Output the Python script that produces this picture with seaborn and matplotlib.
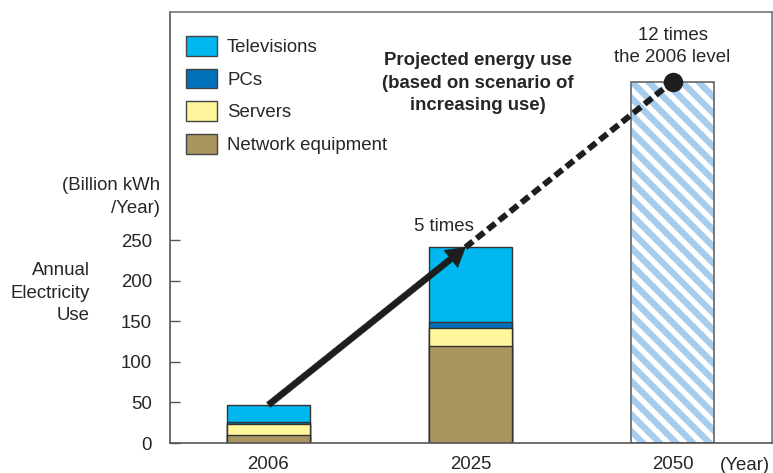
import numpy as np
import pandas as pd
import matplotlib
matplotlib.use("Agg")
import matplotlib.pyplot as plt
from matplotlib.patches import Patch
import seaborn as sns

# Annual electricity use of IT equipment (billion kWh / year)
years = ["2006", "2025", "2050"]
network = [10, 119]
servers = [13, 23]
pcs = [3, 7]
televisions = [21, 92]
projected_2050 = 445

categories = ["Televisions", "PCs", "Servers", "Network equipment"]
colors = {
    "Televisions": "#00B8EF",
    "PCs": "#0070B8",
    "Servers": "#FFF59D",
    "Network equipment": "#A99560",
}
hatch_color = "#A6CDEE"
ink = "#1E1E1E"

sns.set_style("white")
plt.rcParams["font.family"] = ["Liberation Sans", "DejaVu Sans"]
plt.rcParams["hatch.linewidth"] = 4.6

FS = 13.4
LS = 1.42
W, H = 773, 473
fig = plt.figure(figsize=(W / 100, H / 100), dpi=100)
ax = fig.add_axes([170 / W, 30 / H, 601.5 / W, 431 / H])

# cumulative stack tops for the two measured/forecast years
stack = pd.DataFrame({
    "year": years[:2],
    "Network equipment": network,
    "Servers": servers,
    "PCs": pcs,
    "Televisions": televisions,
})
order_bottom_up = ["Network equipment", "Servers", "PCs", "Televisions"]
tops = stack[order_bottom_up].cumsum(axis=1)
tops["year"] = stack["year"]

bar_w = 0.415
# draw from the tallest cumulative layer down so each segment shows
for cat in reversed(order_bottom_up):
    sns.barplot(data=tops, x="year", y=cat, order=years, color=colors[cat],
                saturation=1, width=bar_w, errorbar=None,
                edgecolor="#333333", linewidth=1.0, ax=ax)

# 2050 scenario bar: striped fill with a grey outline
proj = pd.DataFrame({"year": ["2050"], "value": [projected_2050]})
sns.barplot(data=proj, x="year", y="value", order=years, color="white",
            saturation=1, width=bar_w, errorbar=None, hatch="\\\\",
            edgecolor=hatch_color, linewidth=0, ax=ax)
sns.barplot(data=proj, x="year", y="value", order=years, color="#666666",
            fill=False, width=bar_w, errorbar=None, linewidth=1.2, ax=ax)

# growth trend: solid arrow up to the 2025 total, dashed beyond it
total06 = sum(v[0] for v in (network, servers, pcs, televisions))
total25 = sum(v[1] for v in (network, servers, pcs, televisions))
t = (total25 - total06) / (projected_2050 - total06)
x_mid = 2 * t
ax.annotate("", xy=(x_mid, total25), xytext=(0, total06),
            arrowprops=dict(arrowstyle="simple,head_length=1.35,head_width=1.6,tail_width=0.45",
                            mutation_scale=10, fc=ink, ec=ink, lw=0.3,
                            shrinkA=0, shrinkB=0), zorder=5)
ax.plot([x_mid, 2], [total25, projected_2050], color=ink, lw=4.3,
        ls=(0, (1.6, 0.8)), dash_capstyle="butt", zorder=5)
ax.plot([2], [projected_2050], "o", color=ink, ms=13, zorder=6)

ax.text(0.869, 267, "5 times", ha="center", va="center", fontsize=FS)
ax.text(2, 488, "12 times\nthe 2006 level", ha="center", va="center",
        fontsize=FS, linespacing=LS)
ax.text(1.037, 443, "Projected energy use\n(based on scenario of\nincreasing use)",
        ha="center", va="center", fontsize=FS, fontweight="bold", linespacing=LS)

ax.set_xlim(-0.4876, 2.490)
ax.set_ylim(0, 530.8)
ax.set_yticks([0, 50, 100, 150, 200, 250])
ax.set_xlabel("")
ax.set_ylabel("")
ax.tick_params(axis="y", direction="in", length=7, width=1, color="#555555",
               pad=13, labelsize=FS, left=True)
ax.tick_params(axis="x", length=0, pad=9, labelsize=FS)
for s in ax.spines.values():
    s.set_visible(True)
    s.set_color("#777777")
    s.set_linewidth(1.2)
ax.spines["left"].set_color("#555555")
ax.spines["bottom"].set_color("#555555")

handles = [Patch(facecolor=colors[c], edgecolor="#444444", linewidth=1.0, label=c)
           for c in categories]
ax.legend(handles=handles, loc="upper left", bbox_to_anchor=(186 / W, 1 - 36 / H),
          bbox_transform=fig.transFigure, frameon=False, borderpad=0,
          borderaxespad=0, fontsize=FS, handlelength=31 / 18.6,
          handleheight=23 / 18.6, labelspacing=0.68, handletextpad=10 / 18.6)

fig.text(160 / W, 1 - 197 / H, "(Billion kWh\n/Year)", ha="right", va="center",
         fontsize=FS, linespacing=LS)
fig.text(90 / W, 1 - 293 / H, "Annual\nElectricity\nUse", ha="right", va="center",
         fontsize=FS, linespacing=LS)
fig.text(745 / W, 1 - 465 / H, "(Year)", ha="center", va="center", fontsize=FS)

fig.savefig("out.png", dpi=100)
